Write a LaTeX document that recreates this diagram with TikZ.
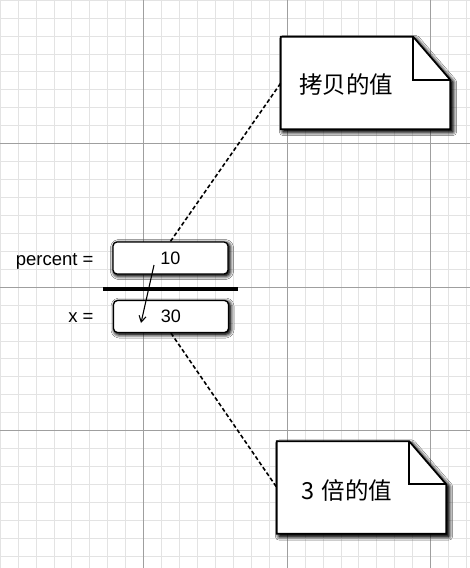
\documentclass[tikz,border=0pt]{standalone}
\usepackage{fontspec}
\setmainfont{Liberation Sans}
\newfontfamily\cjk{Noto Sans CJK SC}
\usetikzlibrary{arrows.meta,shadows.blur}

\tikzset{
  minorline/.style={gray!22,line width=0.6pt},
  majorline/.style={gray!75,line width=0.8pt},
  darkshadow/.style={
    blur shadow={shadow xshift=#1,shadow yshift=-#1,shadow blur radius=6pt,shadow opacity=95},
    blur shadow={shadow xshift=#1,shadow yshift=-#1,shadow blur radius=4pt,shadow opacity=95}},
  valbox/.style={draw,line width=1.3pt,rounded corners=4pt,fill=white,
    minimum width=115pt,minimum height=32pt,font=\fontsize{18}{21}\selectfont,
    darkshadow=1.5pt},
  varlabel/.style={anchor=east,font=\fontsize{18.5}{21}\selectfont},
  notebox/.style={minimum height=92pt,text width=133pt,inner xsep=18pt,align=left,
    font=\cjk\fontsize{23.5}{27}\selectfont},
  notepaper/.style={draw,line width=1.7pt,fill=white,darkshadow=2.5pt},
  link/.style={line width=1.6pt,dash pattern=on 4pt off 2.5pt},
}

\begin{document}
\begin{tikzpicture}[x=1pt,y=-1pt]
        \useasboundingbox (0,0) rectangle (470,568);
        \fill[white] (0,0) rectangle (470,568);

        \foreach \i in {0,...,26}
          \draw[minorline] (\i*17.9375,0) -- (\i*17.9375,568);
        \foreach \j in {0,...,31}
          \draw[minorline] (0,\j*17.9375) -- (470,\j*17.9375);
        \foreach \i in {1,2,3} {
          \draw[majorline] (\i*143.5,0) -- (\i*143.5,568);
          \draw[majorline] (0,\i*143.5) -- (470,\i*143.5);
        }

        \node[notebox] (copy) at (365.5,83) {};
        \node[notebox] (triple) at (361.5,487.5) {};

        \draw[notepaper] (copy.north west) -- ([xshift=-37pt]copy.north east)
          -- ([yshift=-43pt]copy.north east) -- (copy.south east) -- (copy.south west) -- cycle;
        \draw[notepaper] (triple.north west) -- ([xshift=-37pt]triple.north east)
          -- ([yshift=-43pt]triple.north east) -- (triple.south east) -- (triple.south west) -- cycle;
        \draw[line width=1.7pt] ([xshift=-37pt]copy.north east) |- ([yshift=-43pt]copy.north east);
        \draw[line width=1.7pt] ([xshift=-37pt]triple.north east) |- ([yshift=-43pt]triple.north east);

        \node[notebox] (copytext) at ([yshift=-2pt]copy) {拷贝的值};
        \node[notebox] (tripletext) at ([xshift=6pt,yshift=-3pt]triple) {3 倍的值};

        \node[valbox] (ten) at (170.5,258) {10};
        \node[valbox] (thirty) at (171,316.5) {30};
        \node[varlabel] (percent) at (97,261) {percent =};
        \node[varlabel] (x) at (97,318) {x =};

        \draw[line width=4pt] (103,289) -- (238,289);

        \coordinate (from) at (154,265);
        \coordinate (to) at (141,323);
        \draw[line width=1.1pt,-{Straight Barb[length=6pt,width=7pt]}] (from) -- (to);

        \draw[link] (ten.north) -- (copy.west);
        \draw[link] (thirty.south) -- (triple.west);
      \end{tikzpicture}
\end{document}
